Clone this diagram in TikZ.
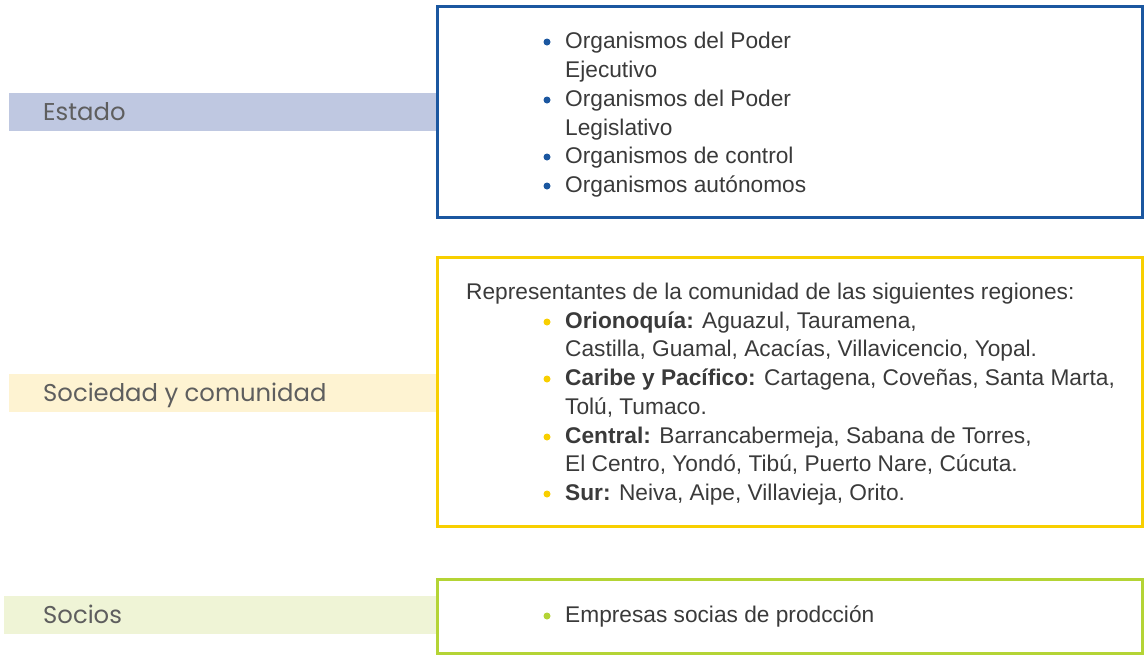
\documentclass[tikz,border=0pt]{standalone}
\usepackage{fontspec}
\setmainfont{Liberation Sans}
\newfontfamily\labfont{Poppins}
\definecolor{blueC}{HTML}{1B57A0}
\definecolor{yellowC}{HTML}{F8CF00}
\definecolor{greenC}{HTML}{B4D435}
\definecolor{blueBand}{HTML}{BFC8E1}
\definecolor{yellowBand}{HTML}{FEF3D2}
\definecolor{greenBand}{HTML}{EFF4D6}
\definecolor{txtC}{HTML}{3A3A3A}
\definecolor{labC}{HTML}{5E5E5E}
\tikzset{
  framebox/.style={draw=#1, line width=3pt, anchor=north west, inner sep=0pt, minimum width=705pt},
  band/.style={fill=#1, anchor=north west, inner sep=0pt, minimum width=427pt, minimum height=38pt},
  lab/.style={anchor=base west, inner sep=0pt, text=labC, font=\labfont\fontsize{24.3}{28}\selectfont},
  txt/.style={anchor=base west, inner sep=0pt, text=txtC, font=\fontsize{22.7}{28}\selectfont},
  bul/.style={circle, fill=#1, inner sep=0pt, minimum size=7pt}
}
\begin{document}
\begin{tikzpicture}[x=1pt, y=-1pt]
\useasboundingbox (0,0) rectangle (1145,654);
% bands
\node[band=blueBand] (estband) at (9,93) {};
\node[band=yellowBand] (socband) at (9,374) {};
\node[band=greenBand, minimum width=432pt] (sciband) at (4,596) {};
% boxes
\node[framebox=blueC, minimum height=211pt] (estbox) at (436,5) {};
\node[framebox=yellowC, minimum height=269pt] (socbox) at (436,256) {};
\node[framebox=greenC, minimum height=74pt] (scibox) at (436,578) {};
% labels
\node[lab] (estlab) at (43,120) {Estado};
\node[lab] (soclab) at (43,401) {Sociedad y comunidad};
\node[lab] (scilab) at (43,623) {Socios};
% Estado items
\node[bul=blueC] (eb1) at (547,42) {};
\node[txt] (e1) at (565,48) {Organismos del Poder};
\node[txt] (e2) at (565,77) {Ejecutivo};
\node[bul=blueC] (eb2) at (547,100) {};
\node[txt] (e3) at (565,106) {Organismos del Poder};
\node[txt] (e4) at (565,135) {Legislativo};
\node[bul=blueC] (eb3) at (547,157) {};
\node[txt] (e5) at (565,163) {Organismos de control};
\node[bul=blueC] (eb4) at (547,186) {};
\node[txt] (e6) at (565,192) {Organismos autónomos};
% Sociedad items
\node[txt] (s0) at (466,299) {Representantes de la comunidad de las siguientes regiones:};
\node[bul=yellowC] (sb1) at (547,322) {};
\node[txt] (s1) at (565,328) {\textbf{Orionoquía:} Aguazul, Tauramena,};
\node[txt] (s2) at (565,356) {Castilla, Guamal, Acacías, Villavicencio, Yopal.};
\node[bul=yellowC] (sb2) at (547,379) {};
\node[txt] (s3) at (565,385) {\textbf{Caribe y Pacífico:} Cartagena, Coveñas, Santa Marta,};
\node[txt] (s4) at (565,414) {Tolú, Tumaco.};
\node[bul=yellowC] (sb3) at (547,437) {};
\node[txt] (s5) at (565,443) {\textbf{Central:} Barrancabermeja, Sabana de Torres,};
\node[txt] (s6) at (565,471) {El Centro, Yondó, Tibú, Puerto Nare, Cúcuta.};
\node[bul=yellowC] (sb4) at (547,494) {};
\node[txt] (s7) at (565,500) {\textbf{Sur:} Neiva, Aipe, Villavieja, Orito.};
% Socios items
\node[bul=greenC] (gb1) at (547,616) {};
\node[txt] (g1) at (565,622) {Empresas socias de prodcción};
\end{tikzpicture}
\end{document}
